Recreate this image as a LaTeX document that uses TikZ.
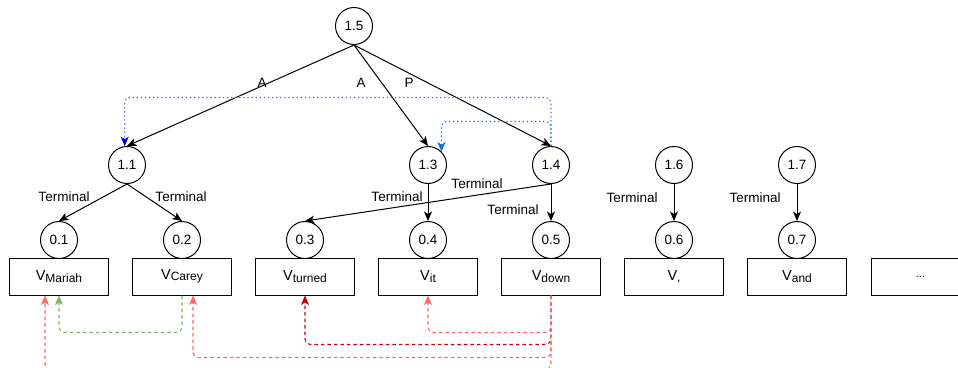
\documentclass[tikz,border=0pt]{standalone}
\usepackage{fontspec}
\setmainfont{Liberation Sans}
\usetikzlibrary{arrows.meta}
% word label: a large V with a smaller, slightly lowered token
\newcommand\tokenlabel[1]{{\fontsize{14.5}{16}\selectfont V}\raisebox{-1.2pt}{\fontsize{12}{14}\selectfont #1}}
\begin{document}
\begin{tikzpicture}[x=1pt,y=-1pt,
  tip/.style={-{Stealth[length=9.5pt,width=8pt,inset=2.5pt]}},
  state/.style={circle,draw,line width=1pt,minimum size=37pt,inner sep=0pt,
    font=\fontsize{13.5}{16}\selectfont},
  wordbox/.style={rectangle,draw,line width=1pt,minimum width=99pt,minimum height=37pt,inner sep=0pt},
  link/.style={tip,line width=1pt},
  lbl/.style={font=\fontsize{13.5}{16}\selectfont,inner sep=0pt},
  bluedot/.style={tip,line width=1.1pt,dash pattern=on 1.3pt off 2.8pt,rounded corners=5pt},
  refdash/.style={tip,line width=1.1pt,dash pattern=on 3.5pt off 3pt,rounded corners=6pt}]
\clip (0,0) rectangle (958,367);

% upper layer
\node[state] (n15) at (354,26) {1.5};
\node[state] (n11) at (127,165) {1.1};
\node[state] (n13) at (428,165) {1.3};
\node[state] (n14) at (551,165) {1.4};
\node[state] (n16) at (674,165) {1.6};
\node[state] (n17) at (797,165) {1.7};

% lower layer
\node[state] (n01) at (59,240) {0.1};
\node[state] (n02) at (182,240) {0.2};
\node[state] (n03) at (305,240) {0.3};
\node[state] (n04) at (428,240) {0.4};
\node[state] (n05) at (551,240) {0.5};
\node[state] (n06) at (674,240) {0.6};
\node[state] (n07) at (797,240) {0.7};

% tokens
\node[wordbox] (wMariah) at (59,276.5) {\tokenlabel{Mariah}};
\node[wordbox] (wCarey)  at (182,276.5) {\tokenlabel{Carey}};
\node[wordbox] (wTurned) at (305,276.5) {\tokenlabel{turned}};
\node[wordbox] (wIt)     at (428,276.5) {\tokenlabel{it}};
\node[wordbox] (wDown)   at (551,276.5) {\tokenlabel{down}};
\node[wordbox] (wComma)  at (674,276.5) {\tokenlabel{,}};
\node[wordbox] (wAnd)    at (797,276.5) {\tokenlabel{and}};
\node[wordbox] (wMore)   at (920.5,276.5) {\fontsize{11}{13}\selectfont ...};

% tree edges
\draw[link] (n15.south) -- (n11.north);
\draw[link] (n15.south) -- (n13.north);
\draw[link] (n15.south) -- (n14.north);
\draw[link] (n11.south) -- (n01.north);
\draw[link] (n11.south) -- (n02.north);
\draw[link] (n13.south) -- (n04.north);
\draw[link] (n14.south) -- (n03.north);
\draw[link] (n14.south) -- (n05.north);
\draw[link] (n16.south) -- (n06.north);
\draw[link] (n17.south) -- (n07.north);

% edge labels
\node[lbl] (lA1) at (262,83) {A};
\node[lbl] (lA2) at (361,83) {A};
\node[lbl] (lP)  at (409,83) {P};
\node[lbl] (t1) at (64,197) {Terminal};
\node[lbl] (t2) at (181,197) {Terminal};
\node[lbl] (t3) at (397,197) {Terminal};
\node[lbl] (t4) at (477,184) {Terminal};
\node[lbl] (t5) at (513,210) {Terminal};
\node[lbl] (t6) at (632,198) {Terminal};
\node[lbl] (t7) at (755,198) {Terminal};

% dotted links among upper nodes
\draw[bluedot,draw=blue!65,-{Stealth[length=9.5pt,width=8pt,inset=2.5pt,fill=blue!85!black,color=blue!85!black]}]
  (n14.north) -- ++(0,-48.5) -| (n11.97);
\draw[bluedot,draw={rgb,255:red,40;green,130;blue,240},color={rgb,255:red,20;green,110;blue,230}]
  (n14.north) -- ++(0,-24.5) -| (n13.45);

% dashed links among tokens
\definecolor{softred}{RGB}{255,102,102}
\definecolor{deepred}{RGB}{204,0,0}
\definecolor{softgreen}{RGB}{130,179,102}
\draw[refdash,color=softgreen] (wCarey.south) -- ++(0,37) -| (wMariah.south);
\draw[refdash,color=deepred] (wDown.south) -- ++(0,49) -| (wTurned.south);
\draw[refdash,color=softred] (wDown.south) -- ++(0,37) -| (wIt.south);
\draw[refdash,color=softred] (wDown.south) -- ++(0,62) -| ([xshift=11pt]wCarey.south);
\draw[refdash,color=softred] (wDown.south) -- ++(0,74) -| ([xshift=-14pt]wMariah.south);
\end{tikzpicture}
\end{document}
